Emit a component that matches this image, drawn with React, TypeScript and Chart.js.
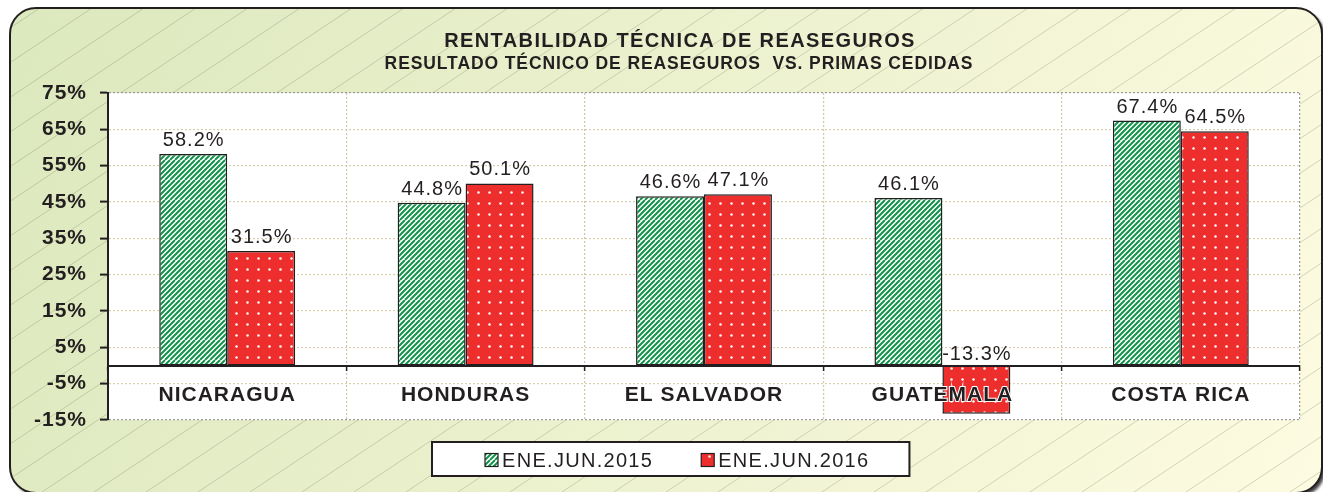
import React, { useEffect, useRef } from 'react';
import { Chart, registerables } from 'chart.js';

Chart.register(...registerables);

// ---------- data ----------
const categories = ['NICARAGUA', 'HONDURAS', 'EL SALVADOR', 'GUATEMALA', 'COSTA RICA'];
const values2015 = [58.2, 44.8, 46.6, 46.1, 67.4];
const values2016 = [31.5, 50.1, 47.1, -13.3, 64.5];
const seriesNames = ['ENE.JUN.2015', 'ENE.JUN.2016'];
const yMin = -15;
const yMax = 75;
const yStep = 10;
const titleText = 'RENTABILIDAD TÉCNICA DE REASEGUROS';
const subtitleText = 'RESULTADO TÉCNICO DE REASEGUROS  VS. PRIMAS CEDIDAS';

// ---------- style ----------
const INK = '#231f20';
const FONT = "'Liberation Sans', Arial, sans-serif";
const GREEN = '#12924a';
const RED = '#ee2d2d';

function makeStripes(ctx: CanvasRenderingContext2D) {
  const s = 20;
  const c = document.createElement('canvas');
  c.width = s;
  c.height = s;
  const g = c.getContext('2d')!;
  g.fillStyle = '#ffffff';
  g.fillRect(0, 0, s, s);
  g.strokeStyle = GREEN;
  g.lineWidth = 2;
  g.beginPath();
  for (let o = -s; o <= 2 * s; o += 5) {
    g.moveTo(o, s);
    g.lineTo(o + s, 0);
  }
  g.stroke();
  return ctx.createPattern(c, 'repeat')!;
}

function makeDots(ctx: CanvasRenderingContext2D) {
  const s = 11;
  const c = document.createElement('canvas');
  c.width = s;
  c.height = s;
  const g = c.getContext('2d')!;
  g.fillStyle = RED;
  g.fillRect(0, 0, s, s);
  g.fillStyle = '#ffffff';
  g.beginPath();
  g.arc(5.5, 5.5, 1.25, 0, Math.PI * 2);
  g.fill();
  return ctx.createPattern(c, 'repeat')!;
}

function roundRect(ctx: CanvasRenderingContext2D, x: number, y: number, w: number, h: number, r: number) {
  ctx.beginPath();
  ctx.moveTo(x + r, y);
  ctx.arcTo(x + w, y, x + w, y + h, r);
  ctx.arcTo(x + w, y + h, x, y + h, r);
  ctx.arcTo(x, y + h, x, y, r);
  ctx.arcTo(x, y, x + w, y, r);
  ctx.closePath();
}

export default function App() {
  const ref = useRef<HTMLCanvasElement>(null);

  useEffect(() => {
    document.body.style.margin = '0';
    const canvas = ref.current!;
    const ctx0 = canvas.getContext('2d')!;
    const stripes = makeStripes(ctx0);
    const dots = makeDots(ctx0);
    const fills = [stripes, dots];

    const framePlugin = {
      id: 'frame',
      beforeDraw(chart: any) {
        const { ctx, width, height, chartArea: a } = chart;
        ctx.save();
        ctx.fillStyle = '#ffffff';
        ctx.fillRect(0, 0, width, height);
        const fx = 10, fy = 8, fw = width - 11, fh = height - 7, fr = 26;
        // shadow + gradient fill
        ctx.save();
        ctx.shadowColor = 'rgba(0,0,0,0.75)';
        ctx.shadowOffsetX = 3;
        ctx.shadowOffsetY = 3;
        ctx.shadowBlur = 3;
        roundRect(ctx, fx, fy, fw, fh, fr);
        const grad = ctx.createLinearGradient(0, 0, width, height);
        grad.addColorStop(0, '#dce8bd');
        grad.addColorStop(1, '#fdfbe1');
        ctx.fillStyle = grad;
        ctx.fill();
        ctx.restore();
        // hatch
        ctx.save();
        roundRect(ctx, fx, fy, fw, fh, fr);
        ctx.clip();
        ctx.strokeStyle = 'rgba(120,125,95,0.38)';
        ctx.lineWidth = 0.8;
        ctx.beginPath();
        const k = 1.5;
        for (let x0 = -height * k; x0 < width + 60; x0 += 52) {
          ctx.moveTo(x0, height);
          ctx.lineTo(x0 + height * k, 0);
        }
        ctx.stroke();
        ctx.restore();
        // border
        roundRect(ctx, fx, fy, fw, fh, fr);
        ctx.strokeStyle = INK;
        ctx.lineWidth = 2;
        ctx.stroke();
        // plot area
        ctx.fillStyle = '#ffffff';
        ctx.fillRect(a.left, a.top, a.right - a.left, a.bottom - a.top);
        // titles
        ctx.fillStyle = INK;
        ctx.textAlign = 'center';
        ctx.textBaseline = 'middle';
        (ctx as any).letterSpacing = '1.4px';
        ctx.font = `bold 20px ${FONT}`;
        ctx.fillText(titleText, 680, 41);
        (ctx as any).letterSpacing = '0.9px';
        ctx.font = `bold 17.5px ${FONT}`;
        ctx.fillText(subtitleText, 679, 64);
        ctx.restore();
        (ctx as any).letterSpacing = '1px';
      },
      afterDatasetsDraw(chart: any) {
        const { ctx } = chart;
        ctx.save();
        (ctx as any).letterSpacing = '1px';
        ctx.font = `20px ${FONT}`;
        ctx.fillStyle = INK;
        ctx.textAlign = 'center';
        ctx.textBaseline = 'alphabetic';
        chart.data.datasets.forEach((ds: any, di: number) => {
          const meta = chart.getDatasetMeta(di);
          meta.data.forEach((el: any, i: number) => {
            const v = ds.data[i];
            const top = Math.min(el.y, el.base);
            const off = v >= 0 ? 8 : 6;
            ctx.fillText(v.toFixed(1) + '%', el.x + 0.5, top - off);
          });
        });
        ctx.restore();
      },
      afterDraw(chart: any) {
        const { ctx } = chart;
        ctx.save();
        (ctx as any).letterSpacing = '1.3px';
        ctx.font = `20px ${FONT}`;
        const sw = 13, gap = 4, itemGap = 48;
        const widths = chart.data.datasets.map((d: any) => ctx.measureText(d.label).width);
        const total = widths.reduce((s: number, w: number) => s + sw + gap + w, 0) + itemGap * (widths.length - 1);
        let x = 485;
        const by = 442, bh = 34;
        const bx = x - 53, bw = total + 53 + 40;
        ctx.fillStyle = '#ffffff';
        ctx.fillRect(bx, by, bw, bh);
        ctx.strokeStyle = INK;
        ctx.lineWidth = 2;
        ctx.strokeRect(bx, by, bw, bh);
        const cy = by + bh / 2 + 1;
        chart.data.datasets.forEach((d: any, i: number) => {
          ctx.fillStyle = d.backgroundColor;
          ctx.fillRect(x, cy - sw / 2, sw, sw);
          ctx.strokeStyle = INK;
          ctx.lineWidth = 1.2;
          ctx.strokeRect(x, cy - sw / 2, sw, sw);
          ctx.fillStyle = INK;
          ctx.textAlign = 'left';
          ctx.textBaseline = 'middle';
          ctx.fillText(d.label, x + sw + gap, cy + 1);
          x += sw + gap + widths[i] + itemGap;
        });
        ctx.restore();
        (ctx as any).letterSpacing = '0px';
      },
    };

    const chart = new Chart(canvas, {
      type: 'bar',
      data: {
        labels: categories,
        datasets: [
          {
            label: seriesNames[0],
            data: values2015,
            backgroundColor: fills[0],
            borderColor: INK,
            borderWidth: 1.5,
            borderSkipped: false,
          },
          {
            label: seriesNames[1],
            data: values2016,
            backgroundColor: fills[1],
            borderColor: INK,
            borderWidth: 1.5,
            borderSkipped: false,
          },
        ],
      },
      options: {
        responsive: false,
        maintainAspectRatio: false,
        animation: false,
        events: [],
        datasets: { bar: { barPercentage: 1, categoryPercentage: 0.57 } },
        layout: { padding: { left: 0, right: 23, top: 93, bottom: 72 } },
        plugins: {
          legend: { display: false },
          tooltip: { enabled: false },
          title: { display: false },
        },
        scales: {
          x: {
            position: { y: 0 } as any,
            grid: {
              offset: true,
              color: (c: any) => (c.type === 'scale' ? '#9a9a9a' : '#cfc6a4'),
              lineWidth: 1.2,
              drawTicks: true,
              tickLength: 4,
              tickColor: INK,
              tickWidth: 1.5,
              tickBorderDash: [],
              z: -1,
            },
            border: { display: true, color: INK, width: 2, dash: [2, 2], z: 1 },
            ticks: {
              z: 1,
              color: INK,
              font: { family: FONT, size: 21, weight: 'bold' },
              padding: 13,
              maxRotation: 0,
              autoSkip: false,
              textStrokeColor: '#ffffff',
              textStrokeWidth: 2,
            },
          },
          y: {
            min: yMin,
            max: yMax,
            afterFit: (s: any) => {
              s.width = 108;
            },
            grid: {
              color: (c: any) =>
                c.tick && (c.tick.value === yMax || c.tick.value === yMin) ? '#9a9a9a' : '#d8cfae',
              lineWidth: 1.2,
              drawTicks: true,
              tickLength: 8,
              tickColor: INK,
              tickWidth: 2,
              tickBorderDash: [],
            },
            border: { display: true, color: INK, width: 2, dash: [2, 2] },
            ticks: {
              stepSize: yStep,
              color: INK,
              font: { family: FONT, size: 21, weight: 'bold' },
              padding: 13,
              callback: (v: any) => v + '%',
            },
          },
        },
      },
      plugins: [framePlugin],
    });

    return () => chart.destroy();
  }, []);

  return (
    <div style={{ width: 1323, height: 492 }}>
      <canvas ref={ref} width={1323} height={492} style={{ display: 'block', width: 1323, height: 492 }} />
    </div>
  );
}
